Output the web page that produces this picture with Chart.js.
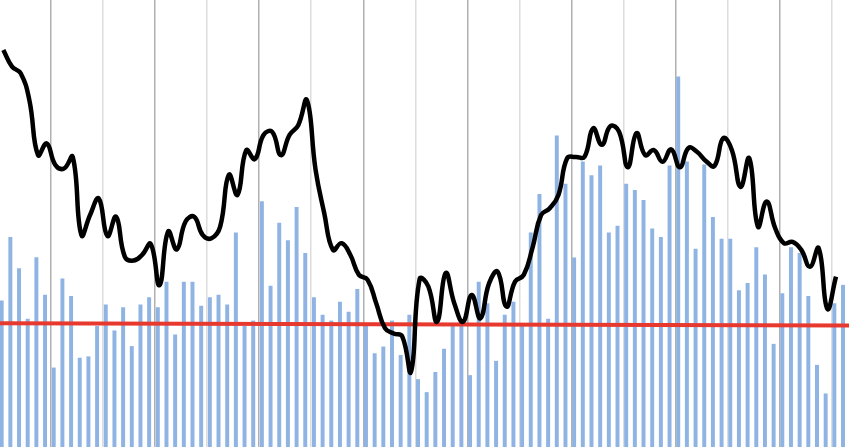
<!DOCTYPE html>
<html>
<head>
<meta charset="utf-8">
<script src="https://cdn.jsdelivr.net/npm/chart.js@4/dist/chart.umd.min.js"></script>
<style>
  html, body { margin: 0; padding: 0; background: #ffffff; overflow: hidden; }
  #wrap { position: absolute; left: -1px; top: 0; width: 850px; height: 447px; }
</style>
</head>
<body>
<div id="wrap"><canvas id="mainChart"></canvas></div>
<script>
// one entry per period (98 periods)
const periods = Array.from({ length: 98 }, (_, i) => 'P' + (i + 1));

// blue bars
const barValues = [
  32.7, 46.9, 39.9, 28.6, 42.4, 34.0, 17.7, 37.6, 33.7, 19.9,
  20.2, 27.0, 31.8, 26.0, 31.2, 22.5, 31.8, 33.4, 31.2, 36.9,
  25.1, 36.9, 36.9, 31.5, 33.4, 34.0, 31.8, 47.9, 27.0, 28.2,
  54.9, 36.0, 50.1, 46.2, 53.6, 43.3, 33.4, 29.5, 28.2, 32.4,
  30.2, 35.3, 27.1, 20.9, 22.4, 28.2, 20.5, 29.5, 15.1, 12.2,
  16.7, 21.9, 27.2, 28.0, 16.0, 36.9, 32.1, 19.2, 29.5, 32.4,
  27.1, 47.9, 56.5, 28.6, 69.6, 58.8, 42.3, 63.8, 60.7, 62.9,
  47.9, 49.4, 58.8, 57.4, 55.2, 48.8, 46.9, 62.9, 82.8, 63.8,
  44.3, 63.1, 51.4, 46.5, 46.5, 35.0, 36.6, 44.6, 38.5, 23.0,
  34.3, 44.6, 43.3, 33.7, 18.3, 11.9, 32.1, 36.2
];

// black smoothed line (no value for the last period)
const lineValues = [
  88.8, 85.1, 83.6, 77.6, 65.3, 67.9, 63.1, 62.3, 64.9, 47.4,
  51.9, 55.6, 47.2, 51.5, 42.6, 41.7, 43.0, 45.4, 36.2, 48.2,
  44.2, 50.4, 51.5, 47.4, 46.7, 49.3, 60.9, 56.4, 66.4, 64.4,
  69.8, 70.5, 65.3, 69.8, 72.0, 77.6, 62.0, 52.3, 44.1, 45.6,
  43.0, 38.5, 37.4, 32.1, 26.6, 25.4, 24.7, 16.8, 37.6, 35.9,
  28.0, 38.9, 32.1, 28.0, 34.0, 28.8, 36.6, 39.2, 31.4, 37.0,
  38.5, 44.5, 51.9, 53.4, 56.4, 64.6, 64.9, 64.9, 71.3, 67.6,
  71.8, 70.5, 62.6, 70.2, 65.3, 66.4, 63.8, 66.6, 62.6, 66.9,
  66.0, 64.0, 62.9, 69.1, 66.4, 58.2, 64.6, 49.3, 54.9, 48.9,
  45.6, 45.9, 44.1, 40.3, 44.5, 30.9, 38.1, null
];

// red trend line, start and end of the whole range
const trendStart = 27.7;
const trendEnd = 27.2;

const ctx = document.getElementById('mainChart').getContext('2d');
new Chart(ctx, {
  type: 'bar',
  data: {
    labels: periods,
    datasets: [
      {
        type: 'line',
        label: 'Line',
        data: lineValues,
        borderColor: '#000000',
        borderWidth: 4.5,
        pointRadius: 0,
        tension: 0.45,
        fill: false,
        order: 0
      },
      {
        type: 'line',
        label: 'Trend',
        xAxisID: 'xt',
        data: [{ x: 0, y: trendStart }, { x: periods.length, y: trendEnd }],
        borderColor: '#e8392e',
        borderWidth: 4,
        pointRadius: 0,
        fill: false,
        order: 1
      },
      {
        label: 'Bars',
        data: barValues,
        backgroundColor: '#8fb4e3',
        barThickness: 3.3,
        order: 2
      }
    ]
  },
  options: {
    responsive: true,
    maintainAspectRatio: false,
    animation: false,
    layout: { padding: 0 },
    plugins: {
      legend: { display: false },
      tooltip: { enabled: false }
    },
    scales: {
      x: {
        offset: true,
        border: { display: false },
        ticks: { display: false, autoSkip: false },
        grid: {
          drawTicks: false,
          lineWidth: 1.5,
          color: (c) => {
            const i = c.index;
            if (i === 0 || i % 6 !== 0) return 'rgba(0,0,0,0)';
            return i % 12 === 6 ? '#b0b0b0' : '#dcdcdc';
          }
        }
      },
      xt: {
        type: 'linear',
        display: false,
        offset: false,
        min: 0,
        max: periods.length
      },
      y: {
        display: false,
        min: 0,
        max: 100
      }
    }
  }
});
</script>
</body>
</html>
